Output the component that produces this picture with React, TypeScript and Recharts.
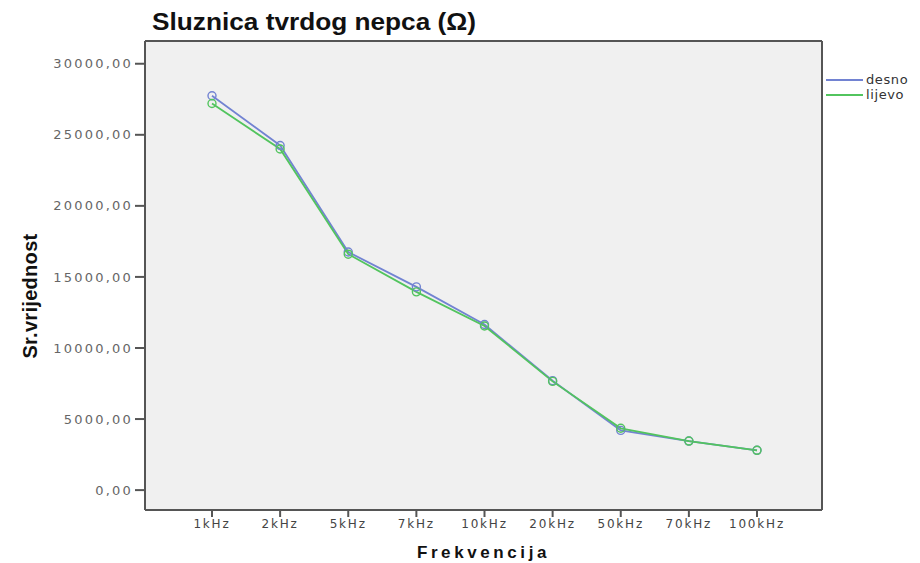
import { LineChart, Line, XAxis, YAxis, CartesianGrid } from "recharts";

const categories = ["1kHz", "2kHz", "5kHz", "7kHz", "10kHz", "20kHz", "50kHz", "70kHz", "100kHz"];
const desno = [27750, 24250, 16750, 14300, 11650, 7700, 4200, 3450, 2800];
const lijevo = [27200, 24000, 16600, 13950, 11550, 7650, 4350, 3450, 2800];
const yTicks = [0, 5000, 10000, 15000, 20000, 25000, 30000];

const BLUE = "#7283d2";
const GREEN = "#52c45e";

const data = categories.map((c, i) => ({ freq: c, desno: desno[i], lijevo: lijevo[i] }));

const fmt = (v: number) => v.toFixed(2).replace(".", ",");

function LegendBox() {
  const items = [
    { name: "desno", color: BLUE },
    { name: "lijevo", color: GREEN },
  ];
  return (
    <div
      style={{
        position: "absolute",
        left: 826,
        top: 72,
        fontFamily: "DejaVu Sans, Arial, sans-serif",
        fontSize: 13,
        color: "#333",
      }}
    >
      {items.map((it) => (
        <div key={it.name} style={{ display: "flex", alignItems: "center", height: 15 }}>
          <span style={{ display: "inline-block", width: 37, height: 2, background: it.color, marginRight: 3 }} />
          <span style={{ letterSpacing: 0.6 }}>{it.name}</span>
        </div>
      ))}
    </div>
  );
}

export default function App() {
  return (
    <div style={{ position: "absolute", left: 0, top: 0, width: 920, height: 563, background: "#fff" }}>
      <div
        style={{
          position: "absolute",
          left: 152,
          top: 9,
          fontFamily: "Liberation Sans, Arial, sans-serif",
          fontWeight: "bold",
          fontSize: 23,
          color: "#111",
          whiteSpace: "nowrap",
          transform: "scaleX(1.14)",
          transformOrigin: "left top",
        }}
      >
        Sluznica tvrdog nepca (Ω)
      </div>
      <div
        style={{
          position: "absolute",
          left: 30,
          top: 296,
          transform: "translate(-50%, -50%) rotate(-90deg)",
          fontFamily: "Liberation Sans Narrow, Liberation Sans, Arial, sans-serif",
          fontWeight: "bold",
          fontSize: 20,
          letterSpacing: 0.3,
          color: "#111",
          whiteSpace: "nowrap",
        }}
      >
        Sr.vrijednost
      </div>
      <LineChart width={920} height={563} data={data} margin={{ top: 41, right: 98, bottom: 0, left: 0 }}>
        <CartesianGrid
          fill="#f0f0f0"
          stroke="#555"
          strokeWidth={2}
          horizontalCoordinatesGenerator={({ offset }: any) => [offset.top, offset.top + offset.height]}
          verticalCoordinatesGenerator={({ offset }: any) => [offset.left, offset.left + offset.width]}
        />
        <XAxis
          dataKey="freq"
          height={53}
          padding={{ left: 67, right: 65 }}
          stroke="#555"
          strokeWidth={2}
          tickSize={7}
          tick={{ fill: "#444", fontSize: 12, fontFamily: "DejaVu Sans, Arial, sans-serif", letterSpacing: 1.8 }}
          label={{
            value: "Frekvencija",
            position: "insideBottom",
            offset: 5,
            style: { fill: "#111", fontSize: 17, fontWeight: "bold", letterSpacing: 3.6, fontFamily: "Liberation Sans, Arial, sans-serif" },
          }}
        />
        <YAxis
          width={145}
          type="number"
          domain={[-1400, 31600]}
          ticks={yTicks}
          allowDataOverflow
          interval={0}
          tickFormatter={fmt}
          stroke="#555"
          strokeWidth={2}
          tickSize={10}
          tick={{ fill: "#666", fontSize: 13, fontFamily: "DejaVu Sans, Arial, sans-serif", letterSpacing: 2.2 }}
        />
        <Line
          type="linear"
          dataKey="desno"
          stroke={BLUE}
          strokeWidth={1.8}
          dot={{ r: 4, fill: "none", stroke: BLUE, strokeWidth: 1.4 }}
          isAnimationActive={false}
        />
        <Line
          type="linear"
          dataKey="lijevo"
          stroke={GREEN}
          strokeWidth={1.8}
          dot={{ r: 4, fill: "none", stroke: GREEN, strokeWidth: 1.4 }}
          isAnimationActive={false}
        />
      </LineChart>
      <LegendBox />
    </div>
  );
}
